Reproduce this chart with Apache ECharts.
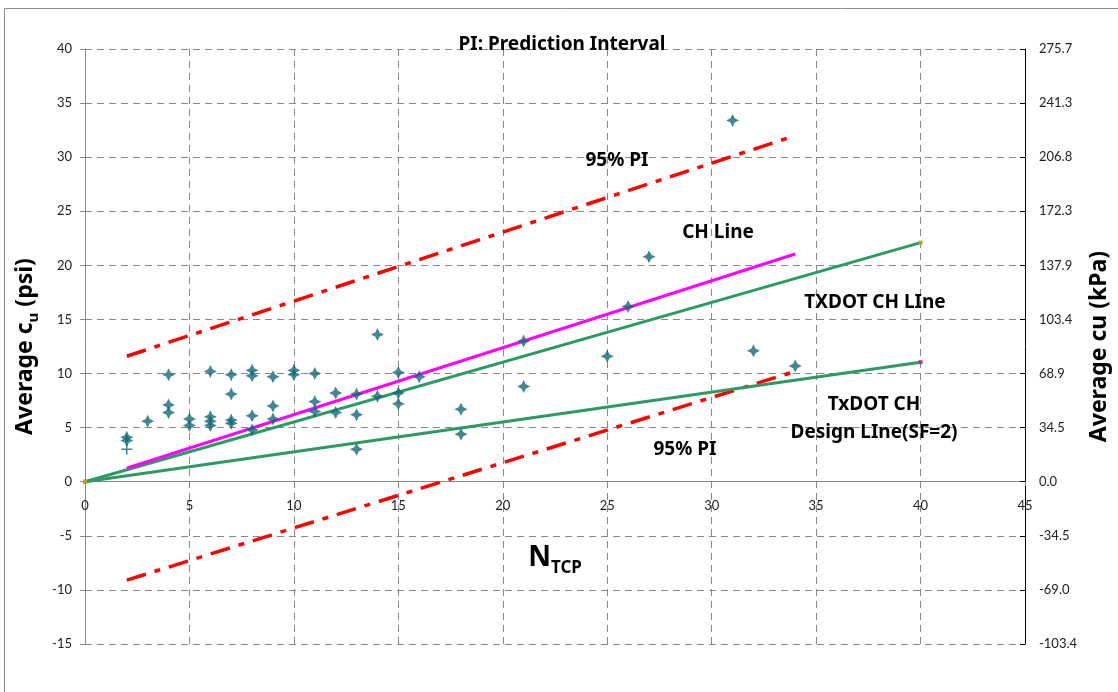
<!DOCTYPE html>
<html>
<head>
<meta charset="utf-8">
<script src="https://cdn.jsdelivr.net/npm/echarts@6/dist/echarts.min.js"></script>
<style>
  html, body { margin: 0; padding: 0; background: #fff; }
  #chart { width: 1118px; height: 692px; }
</style>
</head>
<body>
<div id="chart"></div>
<script>
  // measured points: N_TCP vs average cu (psi)
  var ntcp = [2, 2, 3, 4, 4, 4, 5, 5, 6, 6, 6, 6, 7, 7, 7, 7, 8, 8, 8, 8, 9, 9, 9, 10, 10,
              11, 11, 11, 12, 12, 13, 13, 13, 14, 14, 15, 15, 15, 16, 18, 18, 21, 21, 25, 26, 27, 31, 32, 34];
  var cuPsi = [4.1, 3.8, 5.6, 9.9, 7.1, 6.4, 5.8, 5.2, 10.2, 6.0, 5.6, 5.2, 9.9, 8.1, 5.7, 5.4, 10.3, 9.8, 6.1, 4.8, 9.7, 7.0, 5.8, 10.3, 9.9,
               10.0, 7.4, 6.5, 8.2, 6.4, 8.1, 6.2, 3.0, 13.6, 7.9, 10.1, 8.2, 7.2, 9.7, 6.7, 4.4, 13.0, 8.8, 11.6, 16.2, 20.8, 33.4, 12.1, 10.7];
  // the single "+" point
  var plusN = [2];
  var plusCu = [3.0];

  // fitted / design lines (end points)
  var chN = [2, 34];
  var chCu = [1.25, 21.05];
  var txN = [0, 40];
  var txCu = [0, 22.1];
  var designCu = [0, 11.05];
  var piN = [2, 34];
  var piUpper = [11.6, 32.0];
  var piLower = [-9.1, 10.2];

  // right axis labels (kPa), bottom to top
  var kpaLabels = ['-103.4', '-69.0', '-34.5', '0.0', '34.5', '68.9', '103.4', '137.9', '172.3', '206.8', '241.3', '275.7'];

  var yMin = -15, yMax = 40;

  function pairs(xs, ys) {
    return xs.map(function (x, i) { return [x, ys[i]]; });
  }

  var FONT = '"Noto Sans", sans-serif';
  var TICKFONT = 'Lato, "Noto Sans", sans-serif';
  var gridGray = '#888888';

  var gridTop = 49, gridBottom = 48;
  // onZero doesn't kick in here, so shift the x axis up to y = 0 by hand
  var plotH = 692 - gridTop - gridBottom;
  var xAxisShift = -plotH * (0 - yMin) / (yMax - yMin);

  var chart = echarts.init(document.getElementById('chart'));

  // 4-point star marker like the excel one
  var star = 'path://M0,-6 L2,-2 L6,0 L2,2 L0,6 L-2,2 L-6,0 L-2,-2 Z';
  var plus = 'path://M-0.8,-6 H0.8 V-0.8 H6 V0.8 H0.8 V6 H-0.8 V0.8 H-6 V-0.8 H-0.8 Z';

  function note(text, x, y, size) {
    return {
      type: 'text',
      x: x, y: y,
      z: 100,
      style: {
        text: text,
        font: 'bold ' + size + 'px ' + FONT,
        fill: '#000',
        align: 'center',
        verticalAlign: 'middle'
      }
    };
  }

  chart.setOption({
    animation: false,
    backgroundColor: '#fff',
    grid: { left: 85, right: 93, top: gridTop, bottom: gridBottom, containLabel: false, outerBoundsMode: 'none' },
    xAxis: {
      type: 'value',
      min: 0, max: 45, interval: 5,
      position: 'bottom',
      offset: xAxisShift,
      name: '{n|N}{s|TCP}',
      nameLocation: 'middle',
      nameGap: 62,
      nameTextStyle: {
        rich: {
          n: { fontFamily: FONT, fontWeight: 'bold', fontSize: 28, color: '#000', padding: [0, 0, 5, 0], verticalAlign: 'bottom' },
          s: { fontFamily: FONT, fontWeight: 'bold', fontSize: 17, color: '#000', verticalAlign: 'bottom' }
        }
      },
      axisLine: { onZero: false, lineStyle: { color: gridGray, width: 1 } },
      axisTick: { show: true, length: 4, lineStyle: { color: gridGray } },
      axisLabel: { fontFamily: TICKFONT, fontSize: 13, color: '#222', margin: 18, showMinLabel: true, showMaxLabel: true },
      splitLine: { show: true, lineStyle: { color: gridGray, type: [7, 5], width: 1 } }
    },
    yAxis: [
      {
        type: 'value',
        min: yMin, max: yMax, interval: 5,
        position: 'left',
        name: '{a|Average c}{u|u}{a| (psi)}',
        nameLocation: 'middle',
        nameRotate: 90,
        nameGap: 42,
        nameTextStyle: {
          rich: {
            a: { fontFamily: FONT, fontWeight: 'bold', fontSize: 23, color: '#000', padding: [0, 0, 4, 0], verticalAlign: 'bottom' },
            u: { fontFamily: FONT, fontWeight: 'bold', fontSize: 15, color: '#000', verticalAlign: 'bottom' }
          }
        },
        axisLine: { show: true, onZero: false, lineStyle: { color: gridGray, width: 1 } },
        axisTick: { show: true, length: 5, lineStyle: { color: gridGray } },
        axisLabel: { fontFamily: TICKFONT, fontSize: 13, color: '#222', margin: 13, showMinLabel: true, showMaxLabel: true },
        splitLine: { show: true, lineStyle: { color: gridGray, type: [7, 5], width: 1 } }
      },
      {
        type: 'value',
        min: yMin, max: yMax, interval: 5,
        position: 'right',
        name: 'Average cu (kPa)',
        nameLocation: 'middle',
        nameRotate: 90,
        nameGap: 58,
        nameTextStyle: { fontFamily: FONT, fontWeight: 'bold', fontSize: 23, color: '#000' },
        axisLine: { show: true, onZero: false, lineStyle: { color: '#000', width: 1 } },
        axisTick: { show: true, inside: true, length: 5, lineStyle: { color: '#000' } },
        axisLabel: {
          fontFamily: TICKFONT, fontSize: 13, color: '#222', margin: 14, showMinLabel: true, showMaxLabel: true,
          formatter: function (v) { return kpaLabels[Math.round((v - yMin) / 5)]; }
        },
        splitLine: { show: false }
      }
    ],
    graphic: [
      {
        type: 'rect', z: -1, silent: true,
        shape: { x: 4.5, y: 8.5, width: 1200, height: 800 },
        style: { fill: 'none', stroke: '#8c8c8c', lineWidth: 1 }
      },
      note('PI: Prediction Interval', 562, 45, 19),
      note('95% PI', 617, 161, 19),
      note('CH Line', 718, 233, 19),
      note('TXDOT CH LIne', 875, 303, 19),
      note('TxDOT CH', 874, 405, 19),
      note('Design LIne(SF=2)', 874, 433, 19),
      note('95% PI', 685, 450, 19)
    ],
    series: [
      {
        name: '95% PI upper', type: 'line', data: pairs(piN, piUpper),
        symbol: 'none', z: 3,
        lineStyle: { color: '#ff0000', width: 3.5, type: [20, 9, 6, 9] }
      },
      {
        name: '95% PI lower', type: 'line', data: pairs(piN, piLower),
        symbol: 'none', z: 3,
        lineStyle: { color: '#ff0000', width: 3.5, type: [20, 9, 6, 9] }
      },
      {
        name: 'TxDOT CH Design', type: 'line', data: pairs(txN, designCu),
        symbol: 'rect', symbolSize: 4, z: 4,
        itemStyle: { color: '#b03a78' },
        lineStyle: { color: '#2e9a63', width: 3 }
      },
      {
        name: 'TXDOT CH Line', type: 'line', data: pairs(txN, txCu),
        symbol: 'rect', symbolSize: 4, z: 4,
        itemStyle: { color: '#b8a61e' },
        lineStyle: { color: '#2e9a63', width: 3 }
      },
      {
        name: 'CH Line', type: 'line', data: pairs(chN, chCu),
        symbol: 'none', z: 5,
        lineStyle: { color: '#ff00ff', width: 3 }
      },
      {
        name: 'Data', type: 'scatter', data: pairs(ntcp, cuPsi),
        symbol: star, symbolSize: 13, z: 6,
        itemStyle: { color: '#126a78' }
      },
      {
        name: 'Data +', type: 'scatter', data: pairs(plusN, plusCu),
        symbol: plus, symbolSize: 11, z: 6,
        itemStyle: { color: '#126a78' }
      }
    ]
  });
</script>
</body>
</html>
